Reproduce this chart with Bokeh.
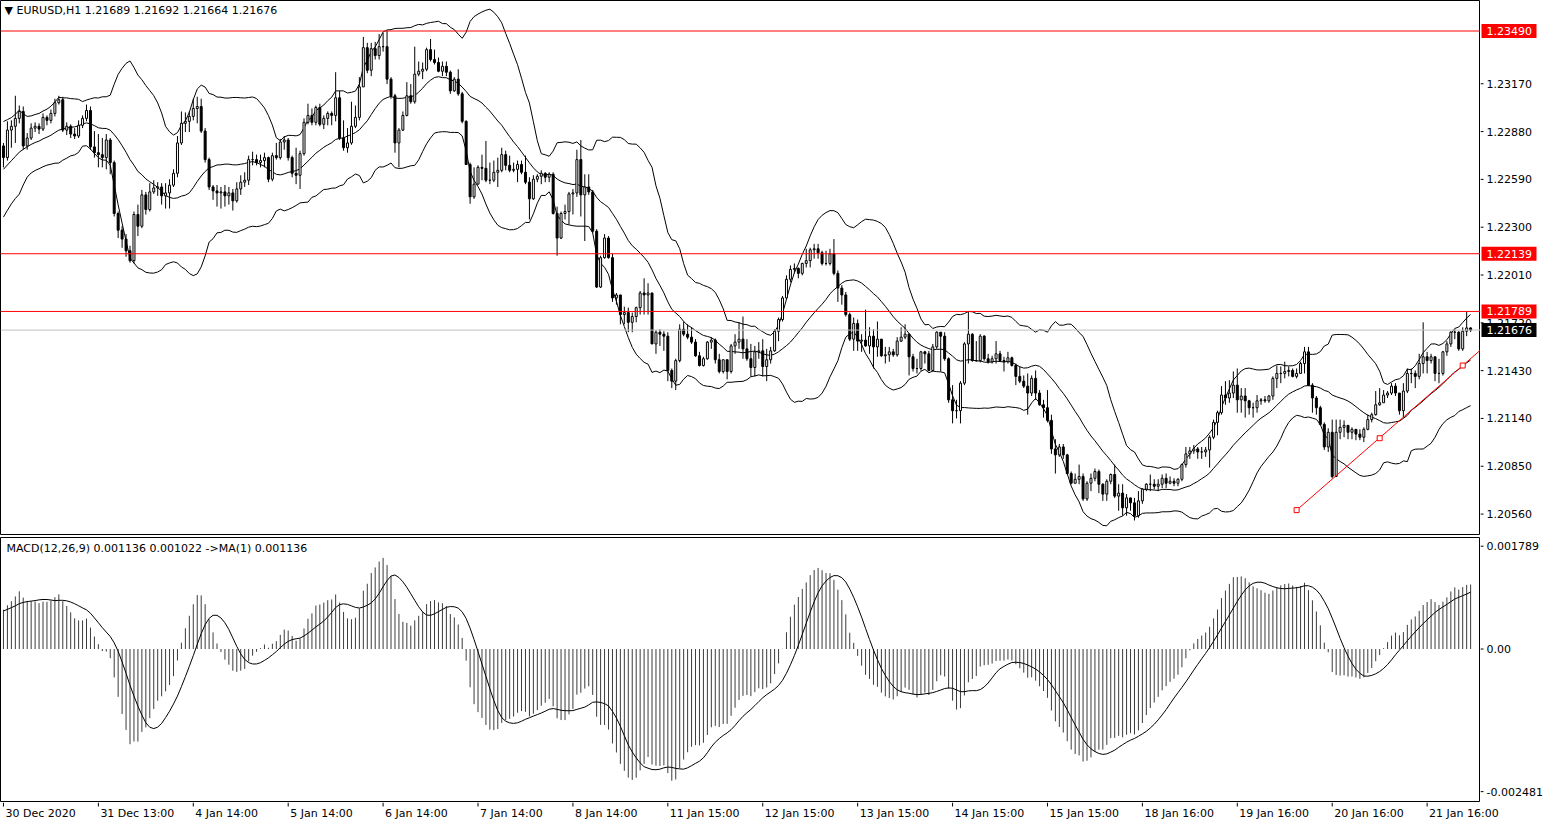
import numpy as np
import pandas as pd
from bokeh.plotting import figure
from bokeh.layouts import column, row
from bokeh.models import Range1d, Span, Label, ColumnDataSource
from bokeh.core.properties import value
from bokeh.embed import file_html
from bokeh.resources import INLINE

FONT = "DejaVu Sans"

# closes of the hours before the first visible bar (only feed the indicators)
pre_close = [1.2258, 1.2262, 1.2267, 1.2271, 1.2269, 1.2265, 1.2261, 1.2257, 1.2253, 1.2250,
             1.2247, 1.2244, 1.2247, 1.2245, 1.2242, 1.2244, 1.2241, 1.2238, 1.2240, 1.2236,
             1.2240, 1.2244, 1.2248, 1.2246, 1.2252, 1.2262, 1.2268, 1.2272, 1.2270, 1.2274,
             1.2276, 1.2273, 1.2278, 1.2275, 1.2279, 1.2277, 1.2281, 1.2279]

closes = [
    1.22722, 1.22889, 1.22912, 1.22960, 1.23002, 1.22793, 1.22841, 1.22901, 1.22912, 1.22895,
    1.22966, 1.22948, 1.22990, 1.23055, 1.23073, 1.22889, 1.22912, 1.22865, 1.22853, 1.22918,
    1.22960, 1.23008, 1.22787, 1.22752, 1.22740, 1.22722, 1.22829, 1.22692, 1.22383, 1.22282,
    1.22228, 1.22157, 1.22097, 1.22377, 1.22306, 1.22496, 1.22407, 1.22514, 1.22538, 1.22544,
    1.22490, 1.22508, 1.22555, 1.22627, 1.22811, 1.22930, 1.22942, 1.22972, 1.23020, 1.23032,
    1.22883, 1.22710, 1.22544, 1.22520, 1.22508, 1.22514, 1.22490, 1.22508, 1.22460, 1.22532,
    1.22573, 1.22585, 1.22710, 1.22710, 1.22692, 1.22704, 1.22722, 1.22591, 1.22734, 1.22722,
    1.22817, 1.22829, 1.22722, 1.22627, 1.22615, 1.22746, 1.22936, 1.22978, 1.22936, 1.23026,
    1.22924, 1.22960, 1.22990, 1.22978, 1.23085, 1.22841, 1.22782, 1.22811, 1.22912, 1.22966,
    1.23151, 1.23389, 1.23252, 1.23383, 1.23341, 1.23395, 1.23395, 1.23198, 1.23097, 1.22811,
    1.22889, 1.22978, 1.23097, 1.23061, 1.23228, 1.23246, 1.23258, 1.23377, 1.23317, 1.23299,
    1.23246, 1.23276, 1.23240, 1.23127, 1.23198, 1.23109, 1.22942, 1.22680, 1.22484, 1.22561,
    1.22663, 1.22657, 1.22585, 1.22585, 1.22633, 1.22645, 1.22740, 1.22675, 1.22645, 1.22651,
    1.22680, 1.22633, 1.22573, 1.22472, 1.22591, 1.22609, 1.22627, 1.22603, 1.22621, 1.22383,
    1.22234, 1.22383, 1.22395, 1.22502, 1.22508, 1.22710, 1.22496, 1.22544, 1.22514, 1.22276,
    1.21937, 1.22115, 1.22234, 1.22115, 1.21871, 1.21889, 1.21770, 1.21782, 1.21723, 1.21758,
    1.21812, 1.21901, 1.21889, 1.21901, 1.21592, 1.21663, 1.21651, 1.21639, 1.21431, 1.21366,
    1.21491, 1.21681, 1.21651, 1.21633, 1.21603, 1.21520, 1.21461, 1.21502, 1.21603, 1.21615,
    1.21496, 1.21425, 1.21496, 1.21425, 1.21580, 1.21603, 1.21621, 1.21562, 1.21502, 1.21449,
    1.21544, 1.21550, 1.21455, 1.21496, 1.21550, 1.21669, 1.21740, 1.21871, 1.21984, 1.22044,
    1.22050, 1.22020, 1.22080, 1.22097, 1.22163, 1.22169, 1.22145, 1.22080, 1.22080, 1.22139,
    1.22020, 1.21931, 1.21889, 1.21770, 1.21621, 1.21716, 1.21609, 1.21615, 1.21580, 1.21639,
    1.21574, 1.21621, 1.21520, 1.21526, 1.21544, 1.21526, 1.21609, 1.21633, 1.21651, 1.21514,
    1.21443, 1.21443, 1.21544, 1.21532, 1.21431, 1.21574, 1.21663, 1.21639, 1.21502, 1.21253,
    1.21187, 1.21187, 1.21354, 1.21592, 1.21651, 1.21491, 1.21491, 1.21639, 1.21502, 1.21484,
    1.21502, 1.21532, 1.21491, 1.21484, 1.21508, 1.21461, 1.21395, 1.21366, 1.21336, 1.21294,
    1.21383, 1.21294, 1.21223, 1.21205, 1.21128, 1.20955, 1.20919, 1.20967, 1.20919, 1.20806,
    1.20747, 1.20771, 1.20788, 1.20652, 1.20747, 1.20777, 1.20818, 1.20741, 1.20681, 1.20759,
    1.20800, 1.20669, 1.20687, 1.20598, 1.20658, 1.20628, 1.20550, 1.20640, 1.20711, 1.20741,
    1.20741, 1.20729, 1.20741, 1.20777, 1.20747, 1.20759, 1.20747, 1.20771, 1.20860, 1.20925,
    1.20943, 1.20955, 1.20937, 1.20937, 1.20949, 1.21026, 1.21116, 1.21175, 1.21282, 1.21264,
    1.21294, 1.21342, 1.21253, 1.21276, 1.21247, 1.21205, 1.21205, 1.21247, 1.21253, 1.21247,
    1.21276, 1.21383, 1.21413, 1.21413, 1.21425, 1.21431, 1.21395, 1.21413, 1.21473, 1.21544,
    1.21342, 1.21264, 1.21205, 1.21104, 1.20967, 1.21056, 1.20788, 1.21056, 1.21086, 1.21098,
    1.21056, 1.21074, 1.21045, 1.21026, 1.21074, 1.21133, 1.21163, 1.21223, 1.21235, 1.21282,
    1.21294, 1.21336, 1.21294, 1.21187, 1.21306, 1.21413, 1.21413, 1.21395, 1.21473, 1.21514,
    1.21491, 1.21514, 1.21413, 1.21413, 1.21544, 1.21592, 1.21663, 1.21663, 1.21562, 1.21669,
    1.21689, 1.21676]

opens = [
    1.22793, 1.22722, 1.22889, 1.22912, 1.22960, 1.23002, 1.22793, 1.22841, 1.22901, 1.22912,
    1.22895, 1.22966, 1.22948, 1.22990, 1.23055, 1.23073, 1.22889, 1.22912, 1.22865, 1.22853,
    1.22918, 1.22960, 1.23008, 1.22787, 1.22752, 1.22740, 1.22722, 1.22829, 1.22692, 1.22383,
    1.22282, 1.22228, 1.22157, 1.22097, 1.22377, 1.22306, 1.22496, 1.22407, 1.22514, 1.22538,
    1.22544, 1.22490, 1.22508, 1.22555, 1.22627, 1.22811, 1.22930, 1.22942, 1.22972, 1.23020,
    1.23032, 1.22883, 1.22710, 1.22544, 1.22520, 1.22508, 1.22514, 1.22490, 1.22508, 1.22460,
    1.22532, 1.22573, 1.22585, 1.22710, 1.22710, 1.22692, 1.22704, 1.22722, 1.22591, 1.22734,
    1.22722, 1.22817, 1.22829, 1.22722, 1.22627, 1.22615, 1.22746, 1.22936, 1.22978, 1.22936,
    1.23026, 1.22924, 1.22960, 1.22990, 1.22978, 1.23085, 1.22841, 1.22782, 1.22811, 1.22912,
    1.22966, 1.23151, 1.23389, 1.23252, 1.23383, 1.23341, 1.23395, 1.23395, 1.23198, 1.23097,
    1.22811, 1.22889, 1.22978, 1.23097, 1.23061, 1.23228, 1.23246, 1.23258, 1.23377, 1.23317,
    1.23299, 1.23246, 1.23276, 1.23240, 1.23127, 1.23198, 1.23109, 1.22942, 1.22680, 1.22484,
    1.22561, 1.22663, 1.22657, 1.22585, 1.22585, 1.22633, 1.22645, 1.22740, 1.22675, 1.22645,
    1.22651, 1.22680, 1.22633, 1.22573, 1.22472, 1.22591, 1.22609, 1.22627, 1.22603, 1.22621,
    1.22383, 1.22234, 1.22383, 1.22395, 1.22502, 1.22508, 1.22710, 1.22496, 1.22544, 1.22514,
    1.22276, 1.21937, 1.22115, 1.22234, 1.22115, 1.21871, 1.21889, 1.21770, 1.21782, 1.21723,
    1.21758, 1.21812, 1.21901, 1.21889, 1.21901, 1.21592, 1.21663, 1.21651, 1.21639, 1.21431,
    1.21366, 1.21491, 1.21681, 1.21651, 1.21633, 1.21603, 1.21520, 1.21461, 1.21502, 1.21603,
    1.21615, 1.21496, 1.21425, 1.21496, 1.21425, 1.21580, 1.21603, 1.21621, 1.21562, 1.21502,
    1.21449, 1.21544, 1.21550, 1.21455, 1.21496, 1.21550, 1.21669, 1.21740, 1.21871, 1.21984,
    1.22044, 1.22050, 1.22020, 1.22080, 1.22097, 1.22163, 1.22169, 1.22145, 1.22080, 1.22080,
    1.22139, 1.22020, 1.21931, 1.21889, 1.21770, 1.21621, 1.21716, 1.21609, 1.21615, 1.21580,
    1.21639, 1.21574, 1.21621, 1.21520, 1.21526, 1.21544, 1.21526, 1.21609, 1.21633, 1.21651,
    1.21514, 1.21443, 1.21443, 1.21544, 1.21532, 1.21431, 1.21574, 1.21663, 1.21639, 1.21502,
    1.21253, 1.21187, 1.21187, 1.21354, 1.21592, 1.21651, 1.21491, 1.21491, 1.21639, 1.21502,
    1.21484, 1.21502, 1.21532, 1.21491, 1.21484, 1.21508, 1.21461, 1.21395, 1.21366, 1.21336,
    1.21294, 1.21383, 1.21294, 1.21223, 1.21205, 1.21128, 1.20955, 1.20919, 1.20967, 1.20919,
    1.20806, 1.20747, 1.20771, 1.20788, 1.20652, 1.20747, 1.20777, 1.20818, 1.20741, 1.20681,
    1.20759, 1.20800, 1.20669, 1.20687, 1.20598, 1.20658, 1.20628, 1.20550, 1.20640, 1.20711,
    1.20741, 1.20741, 1.20729, 1.20741, 1.20777, 1.20747, 1.20759, 1.20747, 1.20771, 1.20860,
    1.20925, 1.20943, 1.20955, 1.20937, 1.20937, 1.20949, 1.21026, 1.21116, 1.21175, 1.21282,
    1.21264, 1.21294, 1.21342, 1.21253, 1.21276, 1.21247, 1.21205, 1.21205, 1.21247, 1.21253,
    1.21247, 1.21276, 1.21383, 1.21413, 1.21413, 1.21425, 1.21431, 1.21395, 1.21413, 1.21473,
    1.21544, 1.21342, 1.21264, 1.21205, 1.21104, 1.20967, 1.21056, 1.20788, 1.21056, 1.21086,
    1.21098, 1.21056, 1.21074, 1.21045, 1.21026, 1.21074, 1.21133, 1.21163, 1.21223, 1.21235,
    1.21282, 1.21294, 1.21336, 1.21294, 1.21187, 1.21306, 1.21413, 1.21413, 1.21395, 1.21473,
    1.21514, 1.21491, 1.21514, 1.21413, 1.21413, 1.21544, 1.21592, 1.21663, 1.21663, 1.21562,
    1.21669, 1.21689]

highs = [
    1.22811, 1.22942, 1.22948, 1.23097, 1.23038, 1.23032, 1.22871, 1.22930, 1.22936, 1.22930,
    1.22990, 1.22978, 1.23014, 1.23079, 1.23097, 1.23091, 1.22936, 1.22924, 1.22901, 1.22948,
    1.22978, 1.23044, 1.23032, 1.22883, 1.22865, 1.22841, 1.22865, 1.22841, 1.22704, 1.22395,
    1.22306, 1.22258, 1.22187, 1.22395, 1.22437, 1.22526, 1.22514, 1.22567, 1.22585, 1.22573,
    1.22567, 1.22567, 1.22591, 1.22651, 1.22853, 1.23002, 1.22996, 1.23002, 1.23079, 1.23091,
    1.23079, 1.22901, 1.22722, 1.22556, 1.22556, 1.22544, 1.22556, 1.22544, 1.22532, 1.22573,
    1.22615, 1.22633, 1.22734, 1.22758, 1.22740, 1.22740, 1.22752, 1.22728, 1.22752, 1.22811,
    1.22835, 1.22853, 1.22841, 1.22734, 1.22782, 1.22764, 1.22960, 1.23049, 1.23020, 1.23038,
    1.23049, 1.22978, 1.23002, 1.23002, 1.23240, 1.23127, 1.22948, 1.22901, 1.23061, 1.23038,
    1.23210, 1.23454, 1.23418, 1.23418, 1.23424, 1.23472, 1.23478, 1.23490, 1.23210, 1.23109,
    1.22901, 1.23002, 1.23180, 1.23168, 1.23395, 1.23305, 1.23299, 1.23389, 1.23442, 1.23377,
    1.23329, 1.23305, 1.23305, 1.23250, 1.23210, 1.23258, 1.23121, 1.22948, 1.22692, 1.22663,
    1.22675, 1.22740, 1.22823, 1.22692, 1.22704, 1.22722, 1.22782, 1.22764, 1.22734, 1.22692,
    1.22704, 1.22704, 1.22734, 1.22603, 1.22615, 1.22621, 1.22645, 1.22633, 1.22633, 1.22633,
    1.22425, 1.22395, 1.22437, 1.22514, 1.22532, 1.22770, 1.22829, 1.22621, 1.22621, 1.22526,
    1.22288, 1.22127, 1.22258, 1.22246, 1.22139, 1.21901, 1.21889, 1.21818, 1.21812, 1.21782,
    1.21818, 1.21913, 1.21990, 1.21960, 1.21901, 1.21675, 1.21681, 1.21669, 1.21663, 1.21443,
    1.21502, 1.21711, 1.21728, 1.21711, 1.21693, 1.21621, 1.21544, 1.21514, 1.21609, 1.21633,
    1.21625, 1.21532, 1.21496, 1.21496, 1.21592, 1.21651, 1.21723, 1.21758, 1.21621, 1.21592,
    1.21580, 1.21603, 1.21621, 1.21562, 1.21574, 1.21681, 1.21752, 1.21883, 1.22008, 1.22068,
    1.22080, 1.22056, 1.22085, 1.22169, 1.22175, 1.22199, 1.22199, 1.22157, 1.22157, 1.22169,
    1.22228, 1.22038, 1.21949, 1.21907, 1.21782, 1.21752, 1.21740, 1.21651, 1.21800, 1.21693,
    1.21681, 1.21728, 1.21621, 1.21574, 1.21574, 1.21562, 1.21633, 1.21693, 1.21711, 1.21657,
    1.21532, 1.21502, 1.21550, 1.21550, 1.21550, 1.21592, 1.21669, 1.21663, 1.21663, 1.21510,
    1.21342, 1.21253, 1.21366, 1.21603, 1.21788, 1.21657, 1.21609, 1.21651, 1.21645, 1.21532,
    1.21520, 1.21609, 1.21550, 1.21514, 1.21544, 1.21515, 1.21473, 1.21455, 1.21401, 1.21413,
    1.21401, 1.21431, 1.21312, 1.21253, 1.21312, 1.21163, 1.21014, 1.20985, 1.20985, 1.20925,
    1.20818, 1.20806, 1.20860, 1.20806, 1.20759, 1.20806, 1.20836, 1.20830, 1.20747, 1.20771,
    1.20806, 1.20860, 1.20741, 1.20741, 1.20681, 1.20658, 1.20658, 1.20699, 1.20717, 1.20747,
    1.20800, 1.20771, 1.20771, 1.20800, 1.20806, 1.20788, 1.20777, 1.20777, 1.20866, 1.20967,
    1.20967, 1.20979, 1.20967, 1.20967, 1.20967, 1.21038, 1.21133, 1.21187, 1.21336, 1.21366,
    1.21372, 1.21425, 1.21443, 1.21324, 1.21324, 1.21253, 1.21235, 1.21282, 1.21264, 1.21276,
    1.21282, 1.21395, 1.21461, 1.21455, 1.21484, 1.21455, 1.21443, 1.21443, 1.21484, 1.21574,
    1.21574, 1.21354, 1.21276, 1.21217, 1.21116, 1.21080, 1.21133, 1.21133, 1.21133, 1.21128,
    1.21098, 1.21086, 1.21074, 1.21074, 1.21086, 1.21163, 1.21175, 1.21306, 1.21324, 1.21312,
    1.21306, 1.21354, 1.21354, 1.21294, 1.21354, 1.21443, 1.21443, 1.21431, 1.21532, 1.21723,
    1.21544, 1.21532, 1.21514, 1.21502, 1.21550, 1.21609, 1.21669, 1.21681, 1.21669, 1.21693,
    1.21789, 1.21692]

lows = [
    1.22663, 1.22704, 1.22782, 1.22811, 1.22930, 1.22770, 1.22770, 1.22829, 1.22877, 1.22865,
    1.22883, 1.22918, 1.22930, 1.22972, 1.23044, 1.22877, 1.22859, 1.22841, 1.22835, 1.22841,
    1.22901, 1.22942, 1.22770, 1.22722, 1.22663, 1.22663, 1.22651, 1.22621, 1.22365, 1.22234,
    1.22175, 1.22121, 1.22085, 1.22080, 1.22246, 1.22294, 1.22377, 1.22395, 1.22502, 1.22490,
    1.22437, 1.22413, 1.22413, 1.22544, 1.22603, 1.22799, 1.22877, 1.22877, 1.22948, 1.22930,
    1.22871, 1.22692, 1.22526, 1.22466, 1.22425, 1.22413, 1.22425, 1.22437, 1.22401, 1.22449,
    1.22496, 1.22544, 1.22556, 1.22675, 1.22675, 1.22663, 1.22663, 1.22573, 1.22579, 1.22710,
    1.22710, 1.22770, 1.22704, 1.22603, 1.22561, 1.22532, 1.22734, 1.22924, 1.22918, 1.22918,
    1.22912, 1.22895, 1.22918, 1.22918, 1.22942, 1.22829, 1.22764, 1.22752, 1.22800, 1.22901,
    1.22948, 1.23151, 1.23234, 1.23216, 1.23317, 1.23317, 1.23365, 1.23168, 1.23079, 1.22752,
    1.22663, 1.22883, 1.22972, 1.23049, 1.23049, 1.23216, 1.23198, 1.23246, 1.23305, 1.23287,
    1.23240, 1.23216, 1.23216, 1.23109, 1.23121, 1.23097, 1.22930, 1.22680, 1.22442, 1.22472,
    1.22561, 1.22585, 1.22573, 1.22561, 1.22573, 1.22544, 1.22633, 1.22645, 1.22633, 1.22633,
    1.22573, 1.22621, 1.22561, 1.22347, 1.22466, 1.22573, 1.22561, 1.22573, 1.22573, 1.22377,
    1.22127, 1.22228, 1.22347, 1.22318, 1.22377, 1.22484, 1.22365, 1.22216, 1.22496, 1.22264,
    1.21931, 1.21931, 1.22109, 1.22109, 1.21847, 1.21830, 1.21711, 1.21711, 1.21663, 1.21663,
    1.21723, 1.21770, 1.21770, 1.21770, 1.21592, 1.21532, 1.21580, 1.21550, 1.21366, 1.21324,
    1.21312, 1.21480, 1.21639, 1.21621, 1.21592, 1.21514, 1.21455, 1.21455, 1.21496, 1.21562,
    1.21473, 1.21413, 1.21413, 1.21377, 1.21413, 1.21532, 1.21562, 1.21502, 1.21490, 1.21395,
    1.21395, 1.21502, 1.21395, 1.21366, 1.21473, 1.21544, 1.21609, 1.21728, 1.21859, 1.21966,
    1.22020, 1.21990, 1.22008, 1.22056, 1.22056, 1.22109, 1.22109, 1.22068, 1.22068, 1.22068,
    1.22008, 1.21847, 1.21830, 1.21758, 1.21609, 1.21550, 1.21550, 1.21544, 1.21574, 1.21532,
    1.21443, 1.21514, 1.21514, 1.21473, 1.21484, 1.21514, 1.21515, 1.21603, 1.21621, 1.21401,
    1.21425, 1.21413, 1.21430, 1.21473, 1.21425, 1.21425, 1.21562, 1.21425, 1.21490, 1.21235,
    1.21110, 1.21140, 1.21110, 1.21342, 1.21473, 1.21484, 1.21484, 1.21480, 1.21490, 1.21473,
    1.21473, 1.21473, 1.21484, 1.21425, 1.21473, 1.21455, 1.21342, 1.21354, 1.21324, 1.21163,
    1.21276, 1.21253, 1.21217, 1.21145, 1.21116, 1.20925, 1.20806, 1.20907, 1.20895, 1.20800,
    1.20741, 1.20747, 1.20741, 1.20640, 1.20640, 1.20699, 1.20759, 1.20687, 1.20640, 1.20640,
    1.20741, 1.20658, 1.20580, 1.20550, 1.20550, 1.20580, 1.20521, 1.20538, 1.20622, 1.20699,
    1.20699, 1.20711, 1.20699, 1.20717, 1.20717, 1.20741, 1.20729, 1.20729, 1.20759, 1.20842,
    1.20895, 1.20925, 1.20895, 1.20895, 1.20907, 1.20842, 1.21014, 1.21038, 1.21163, 1.21223,
    1.21235, 1.21264, 1.21175, 1.21175, 1.21145, 1.21163, 1.21145, 1.21175, 1.21223, 1.21235,
    1.21235, 1.21253, 1.21324, 1.21354, 1.21383, 1.21395, 1.21389, 1.21383, 1.21413, 1.21413,
    1.21336, 1.21175, 1.21163, 1.21098, 1.20949, 1.20937, 1.20776, 1.20788, 1.21014, 1.21026,
    1.21014, 1.21014, 1.21008, 1.21008, 1.20997, 1.21068, 1.21116, 1.21157, 1.21217, 1.21235,
    1.21264, 1.21282, 1.21276, 1.21163, 1.21145, 1.21294, 1.21354, 1.21324, 1.21377, 1.21413,
    1.21413, 1.21473, 1.21366, 1.21354, 1.21400, 1.21520, 1.21574, 1.21621, 1.21550, 1.21550,
    1.21639, 1.21664]

date_ticks = [0, 24, 48, 72, 96, 120, 144, 168, 192, 216, 240, 264, 288, 312, 336, 360]
date_labels = ["30 Dec 2020", "31 Dec 13:00", "4 Jan 14:00", "5 Jan 14:00", "6 Jan 14:00",
               "7 Jan 14:00", "8 Jan 14:00", "11 Jan 15:00", "12 Jan 15:00", "13 Jan 15:00",
               "14 Jan 15:00", "15 Jan 15:00", "18 Jan 16:00", "19 Jan 16:00", "20 Jan 16:00",
               "21 Jan 16:00"]
price_ticks = [1.2056, 1.2085, 1.2114, 1.2143, 1.2172, 1.2201, 1.2230, 1.2259, 1.2288, 1.2317]
red_levels = [1.23490, 1.22139, 1.21789]
bid_level = 1.21676
trend_bars = [327, 348, 369]
trend_prices = [1.20584, 1.21020, 1.21461]
macd_ticks = [0.001789, 0.0, -0.002481]
macd_tick_labels = ["0.001789", "0.00", "-0.002481"]
header_text = "\u25BC EURUSD,H1  1.21689 1.21692 1.21664 1.21676"
macd_text = "MACD(12,26,9) 0.001136 0.001022  ->MA(1) 0.001136"

# ---------- indicators ----------
allc = pd.Series(pre_close + closes)
npre = len(pre_close)
mid = allc.rolling(20).mean()
sd = allc.rolling(20).std(ddof=0)
bb_mid = mid.values[npre:]
bb_up = (mid + 2 * sd).values[npre:]
bb_lo = (mid - 2 * sd).values[npre:]
e12 = allc.ewm(span=12, adjust=False).mean()
e26 = allc.ewm(span=26, adjust=False).mean()
macd_all = e12 - e26
sig_all = macd_all.rolling(9).mean()
macd_v = macd_all.values[npre:]
sig_v = sig_all.values[npre:]

n = len(closes)
x = np.arange(n)
o = np.array(opens); h = np.array(highs); l = np.array(lows); c = np.array(closes)
src = ColumnDataSource(dict(x=x, h=h, l=l, top=np.maximum(o, c), bot=np.minimum(o, c),
                            fill=np.where(c >= o, "white", "black")))

FW = 1480      # plot frames
RW = 64        # price-scale strip
H_MAIN = 535
H_MACD = 267
H_DATE = 22
XR = Range1d(-0.75, 373.5)
YR_MAIN = Range1d(1.20430, 1.23675)
YR_MACD = Range1d(-0.00267, 0.00194)
bars_per_px = (XR.end - XR.start) / FW
XR_DATE = Range1d(XR.start, XR.end + RW * bars_per_px)


def base_fig(w, h, xr, yr, outline="black", top=0):
    f = figure(width=w, height=h, x_range=xr, y_range=yr, output_backend="svg",
               toolbar_location=None, x_axis_location=None, y_axis_location=None,
               min_border_left=0, min_border_right=0, min_border_top=top,
               min_border_bottom=0, outline_line_color=outline,
               background_fill_color="white", border_fill_color="white")
    f.grid.visible = False
    return f


def txt(f, xs, ys, texts, color="black", align="left", baseline="middle", xoff=0):
    f.text(x=xs, y=ys, text=texts, text_color=color, text_align=align,
           text_baseline=baseline, x_offset=xoff, text_font=value(FONT),
           text_font_size=value("11px"))


# ---------- main panel ----------
p = base_fig(FW, H_MAIN, XR, YR_MAIN)
p.line(x, bb_up, line_color="black", line_width=1)
p.line(x, bb_mid, line_color="black", line_width=1)
p.line(x, bb_lo, line_color="black", line_width=1)
p.segment(x0="x", y0="l", x1="x", y1="h", source=src, line_color="black", line_width=1)
p.vbar(x="x", width=0.5, top="top", bottom="bot", fill_color="fill", line_color="black",
       line_width=1, source=src)
p.add_layout(Span(location=bid_level, dimension="width", line_color="#c0c0c0", line_width=1))
for lv in red_levels:
    p.add_layout(Span(location=lv, dimension="width", line_color="red", line_width=1))
slope = (trend_prices[-1] - trend_prices[0]) / (trend_bars[-1] - trend_bars[0])
t_end = trend_prices[-1] + slope * (XR.end - trend_bars[-1])
p.line([trend_bars[0], XR.end], [trend_prices[0], t_end], line_color="red", line_width=1)
p.scatter(trend_bars, trend_prices, marker="square", size=5, fill_color="white",
          line_color="red", line_width=1)
p.add_layout(Label(x=XR.start, y=YR_MAIN.end, x_offset=4, y_offset=-3, text=header_text,
                   text_font=FONT, text_font_size="11px", text_color="black",
                   text_align="left", text_baseline="top"))

# price scale strip
pr = base_fig(RW, H_MAIN, Range1d(0, RW), YR_MAIN, outline=None)
pr.segment(x0=0, y0=price_ticks, x1=3, y1=price_ticks, line_color="black", line_width=1)
txt(pr, 6, price_ticks, [f"{t:.5f}" for t in price_ticks])
tag_levels = red_levels + [bid_level]
tag_colors = ["red"] * len(red_levels) + ["black"]
pr.rect(x=28.5, y=tag_levels, width=55, height=14, height_units="screen",
        fill_color=tag_colors, line_color=None)
txt(pr, 6, tag_levels, [f"{v:.5f}" for v in tag_levels], color="white")

# ---------- MACD panel ----------
m = base_fig(FW, H_MACD, XR, YR_MACD, top=2)
m.segment(x0=x, y0=np.zeros(n), x1=x, y1=macd_v, line_color="#3c3c3c", line_width=1)
m.line(x, sig_v, line_color="black", line_width=1)
m.add_layout(Label(x=XR.start, y=YR_MACD.end, x_offset=6, y_offset=-4, text=macd_text,
                   text_font=FONT, text_font_size="11px", text_color="black",
                   text_align="left", text_baseline="top"))

mr = base_fig(RW, H_MACD, Range1d(0, RW), YR_MACD, outline=None, top=2)
mr.segment(x0=0, y0=macd_ticks, x1=3, y1=macd_ticks, line_color="black", line_width=1)
txt(mr, 6, macd_ticks, macd_tick_labels)

# ---------- time scale (spans under the price scale too) ----------
d = base_fig(FW + RW, H_DATE, XR_DATE, Range1d(0, H_DATE), outline=None)
d.segment(x0=date_ticks, y0=H_DATE, x1=date_ticks, y1=H_DATE - 4, line_color="black",
          line_width=1)
txt(d, date_ticks, [H_DATE - 4] * len(date_ticks), date_labels, baseline="top", xoff=2)

layout = column(row(p, pr, spacing=0), row(m, mr, spacing=0), d, spacing=0)
open("out.html", "w").write(file_html(layout, INLINE))
